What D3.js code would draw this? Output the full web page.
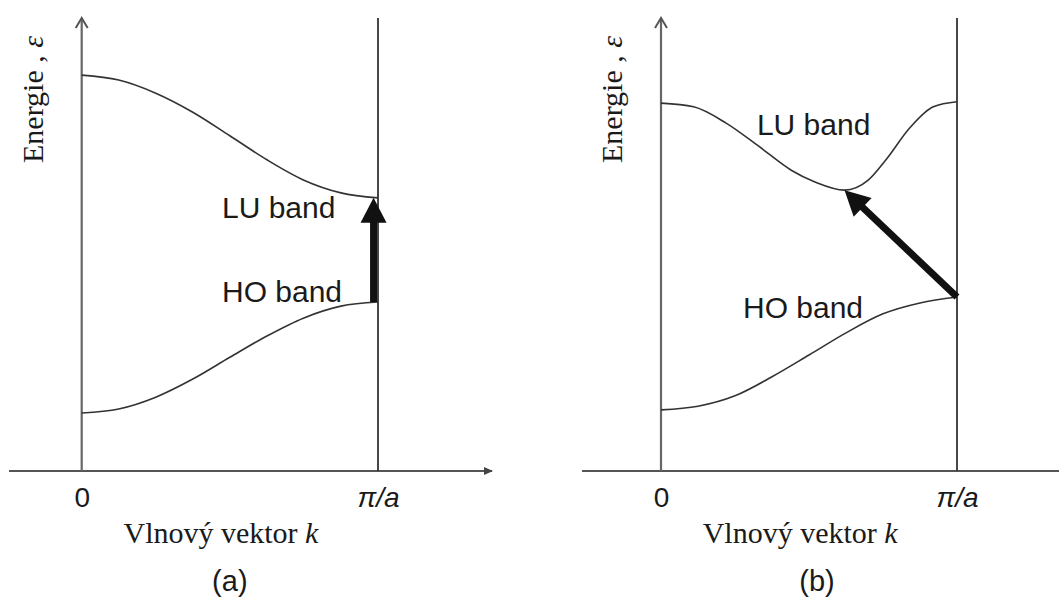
<!DOCTYPE html>
<html>
<head>
<meta charset="utf-8">
<script src="https://cdn.jsdelivr.net/npm/d3@7/dist/d3.min.js"></script>
<style>
  body { margin: 0; background: #fff; }
</style>
</head>
<body>
<div id="chart"></div>
<script>
// band energies, k in units of pi/a, energy in arbitrary units
const kA = [0, 0.125, 0.25, 0.375, 0.5, 0.625, 0.75, 0.875, 1];
const luA = [8.74, 8.63, 8.34, 7.92, 7.40, 6.87, 6.42, 6.14, 6.03];
const hoA = [1.28, 1.37, 1.63, 2.03, 2.51, 2.98, 3.38, 3.64, 3.73];

const kLuB = [0, 0.11, 0.22, 0.33, 0.44, 0.52, 0.62, 0.70, 0.76, 0.84, 0.92, 1];
const luB = [8.12, 8.04, 7.68, 7.17, 6.64, 6.38, 6.20, 6.42, 6.87, 7.57, 8.04, 8.15];
const kHoB = [0, 0.125, 0.25, 0.375, 0.5, 0.625, 0.75, 0.875, 1];
const hoB = [1.35, 1.43, 1.66, 2.08, 2.56, 3.05, 3.47, 3.71, 3.84];

// transitions [k, energy] from -> to
const arrowA = [[0.985, 3.73], [0.985, 6.03]];
const arrowB = [[1, 3.84], [0.62, 6.20]];

const kTicks = [0, 1];
const kTickLabels = ["0", "π/a"];
const bandNames = ["LU band", "HO band"];
const panelNames = ["(a)", "(b)"];

document.addEventListener("DOMContentLoaded", function(event) {

    var width = 1059;
    var height = 600;
    var axisY = 471;
    var topY = 18;
    var sans = "Liberation Sans, Arial, sans-serif";
    var serif = "Liberation Serif, Times New Roman, serif";
    var ink = "#1a1a1a";

    var svg = d3.select("#chart")
        .append("svg")
        .attr("width", width)
        .attr("height", height)
        .style("background", "#fff");

    var y = d3.scaleLinear().domain([0, 10]).range([axisY, topY]);

    var panels = [
        { x0: 81.7, x1: 378, lineFrom: 9, lineTo: 492, lineArrow: true,
          bands: [[kA, luA], [kA, hoA]], arrow: arrowA,
          bandPos: [[0.4735, 5.585], [0.4735, 3.73]], titleK: 0.47, nameK: 0.5 },
        { x0: 661, x1: 957, lineFrom: 582, lineTo: 1059, lineArrow: false,
          bands: [[kLuB, luB], [kHoB, hoB]], arrow: arrowB,
          bandPos: [[0.324, 7.42], [0.277, 3.38]], titleK: 0.47, nameK: 0.527 }
    ];

    panels.forEach(function(p, pi) {
        var x = d3.scaleLinear().domain([0, 1]).range([p.x0, p.x1]);
        var g = svg.append("g");

        // x axis line
        g.append("line")
            .attr("x1", p.lineFrom).attr("x2", p.lineTo)
            .attr("y1", axisY).attr("y2", axisY)
            .attr("stroke", "#555").attr("stroke-width", 2);
        if (p.lineArrow) {
            g.append("path")
                .attr("d", "M" + (p.lineTo + 1) + "," + axisY + "L" + (p.lineTo - 8) + "," + (axisY - 4) +
                    "L" + (p.lineTo - 8) + "," + (axisY + 4) + "Z")
                .attr("fill", "#444");
        }

        // y axis with open arrow head
        g.append("line")
            .attr("x1", x(0)).attr("x2", x(0))
            .attr("y1", axisY).attr("y2", topY + 1)
            .attr("stroke", "#666").attr("stroke-width", 2.2);
        g.append("path")
            .attr("d", "M" + (x(0) - 6) + "," + (topY + 10) + "L" + x(0) + "," + topY +
                "L" + (x(0) + 6) + "," + (topY + 10))
            .attr("fill", "none").attr("stroke", "#555").attr("stroke-width", 2);

        // zone boundary at pi/a
        g.append("line")
            .attr("x1", x(1)).attr("x2", x(1))
            .attr("y1", axisY).attr("y2", topY)
            .attr("stroke", "#333").attr("stroke-width", 1.8);

        // tick labels
        var ax = g.append("g")
            .attr("transform", "translate(0," + axisY + ")")
            .call(d3.axisBottom(x).tickValues(kTicks)
                .tickFormat(function(d, i) { return kTickLabels[i]; })
                .tickSize(0).tickPadding(16));
        ax.select(".domain").remove();
        ax.selectAll("text")
            .attr("fill", ink)
            .style("font-family", sans)
            .style("font-size", "28px")
            .style("font-style", function(d, i) { return i == 1 ? "italic" : "normal"; });

        // bands
        var line = d3.line()
            .x(function(d) { return x(d[0]); })
            .y(function(d) { return y(d[1]); })
            .curve(d3.curveMonotoneX);
        p.bands.forEach(function(b) {
            g.append("path")
                .attr("d", line(d3.zip(b[0], b[1])))
                .attr("fill", "none")
                .attr("stroke", "#333")
                .attr("stroke-width", 1.6);
        });

        // band names
        g.selectAll(".bandname")
            .data(bandNames)
            .enter()
            .append("text")
            .attr("class", "bandname")
            .attr("x", function(d, i) { return x(p.bandPos[i][0]); })
            .attr("y", function(d, i) { return y(p.bandPos[i][1]); })
            .attr("fill", ink)
            .style("font-family", sans)
            .style("font-size", "30px")
            .text(function(d) { return d; });

        // transition arrow
        var a0 = [x(p.arrow[0][0]), y(p.arrow[0][1])];
        var a1 = [x(p.arrow[1][0]), y(p.arrow[1][1])];
        var dx = a1[0] - a0[0], dy = a1[1] - a0[1];
        var len = Math.sqrt(dx * dx + dy * dy);
        var ux = dx / len, uy = dy / len;
        var headL = 25, headW = 13;
        var bx = a1[0] - ux * headL, by = a1[1] - uy * headL;
        g.append("line")
            .attr("x1", a0[0]).attr("y1", a0[1])
            .attr("x2", bx + ux * 2).attr("y2", by + uy * 2)
            .attr("stroke", "#111").attr("stroke-width", 7);
        g.append("path")
            .attr("d", "M" + a1[0] + "," + a1[1] +
                "L" + (bx - uy * headW) + "," + (by + ux * headW) +
                "L" + (bx + uy * headW) + "," + (by - ux * headW) + "Z")
            .attr("fill", "#111");

        // axis titles
        var yt = g.append("text")
            .attr("transform", "translate(" + (x(0) - 39) + ",163) rotate(-90)")
            .attr("fill", ink)
            .style("font-family", serif)
            .style("font-size", "30px");
        yt.append("tspan").text("Energie , ");
        yt.append("tspan").style("font-style", "italic").text("ε");

        var xt = g.append("text")
            .attr("x", x(p.titleK))
            .attr("y", 543)
            .attr("text-anchor", "middle")
            .attr("fill", ink)
            .style("font-family", serif)
            .style("font-size", "30px");
        xt.append("tspan").text("Vlnový vektor ");
        xt.append("tspan").style("font-style", "italic").text("k");

        g.append("text")
            .attr("x", x(p.nameK))
            .attr("y", 591)
            .attr("text-anchor", "middle")
            .attr("fill", ink)
            .style("font-family", sans)
            .style("font-size", "29px")
            .text(panelNames[pi]);
    });
});
</script>
</body>
</html>
